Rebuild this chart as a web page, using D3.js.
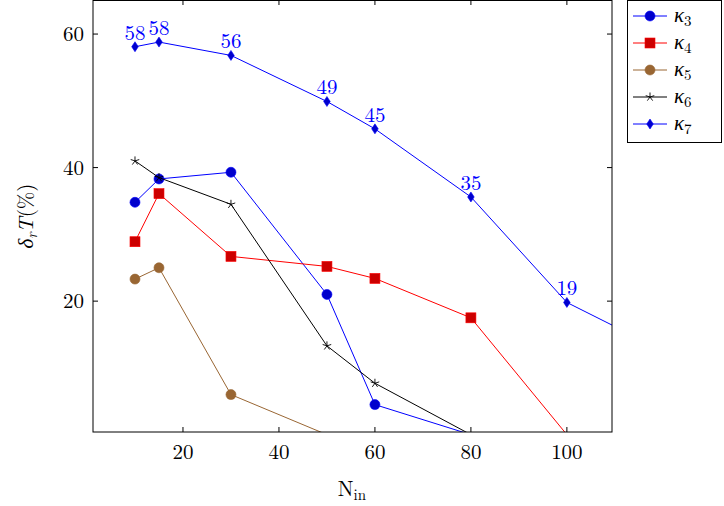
<!DOCTYPE html>
<html><head><meta charset="utf-8">
<script src="https://cdn.jsdelivr.net/npm/d3@7"></script>
<style>body{margin:0;background:#fff}svg{font-family:"Latin Modern Roman","Liberation Serif","DejaVu Serif",serif}</style>
</head><body><svg id="c" width="724" height="506"></svg>
<script>
const xs=[10,15,30,50,60,80,100,120];
const k3=[34.8,38.3,39.3,21.0,4.5,0];
const k4=[28.9,36.1,26.7,25.2,23.4,17.5,0];
const k5=[23.3,25.0,6.0,0];
const k6=[41.0,38.5,34.5,13.3,7.7,0];
const k7=[58.1,58.8,56.8,49.9,45.8,35.6,19.8,12.6];
const k7labels=["58","58","56","49","45","35","19"];
const xTicks=[20,40,60,80,100], yTicks=[20,40,60];
const series=[
 {name:"3",v:k3,line:"#0000ff",fill:"#0000cc",mark:"circle"},
 {name:"4",v:k4,line:"#ff0000",fill:"#cc0000",mark:"square"},
 {name:"5",v:k5,line:"#996633",fill:"#996633",mark:"circle"},
 {name:"6",v:k6,line:"#000000",fill:"#000000",mark:"star"},
 {name:"7",v:k7,line:"#0000ff",fill:"#0000cc",mark:"diamond"}];
const L=93,R=612,T=0,B=432;
const x=d3.scaleLinear().domain([1.25,109.4]).range([L,R]);
const y=d3.scaleLinear().domain([0.4,65.1]).range([B,T]);
const svg=d3.select("#c");
svg.append("clipPath").attr("id","cp").append("rect").attr("x",L).attr("y",T).attr("width",R-L).attr("height",B-T);
const g=svg.append("g").attr("clip-path","url(#cp)");
function mark(sel,s,px,py){
 if(s.mark==="circle") sel.append("circle").attr("cx",px).attr("cy",py).attr("r",5).attr("fill",s.fill).attr("stroke",s.line).attr("stroke-width",0.6);
 else if(s.mark==="square") sel.append("rect").attr("x",px-5).attr("y",py-5).attr("width",10).attr("height",10).attr("fill",s.fill).attr("stroke",s.line).attr("stroke-width",0.6);
 else if(s.mark==="diamond") sel.append("path").attr("d",`M${px},${py-5}L${px+3.3},${py}L${px},${py+5}L${px-3.3},${py}Z`).attr("fill",s.fill).attr("stroke",s.line).attr("stroke-width",0.6);
 else { const gg=sel.append("g").attr("stroke",s.line).attr("stroke-width",0.9);
   for(let i=0;i<5;i++){const a=-Math.PI/2+i*2*Math.PI/5;gg.append("line").attr("x1",px).attr("y1",py).attr("x2",px+4.5*Math.cos(a)).attr("y2",py+4.5*Math.sin(a));}}
}
series.forEach(s=>{
 const pts=s.v.map((v,i)=>[xs[i],v]);
 g.append("path").attr("d",d3.line().x(d=>x(d[0])).y(d=>y(d[1]))(pts)).attr("fill","none").attr("stroke",s.line).attr("stroke-width",1);
 pts.filter(p=>p[1]>=y.domain()[0]&&p[0]<=x.domain()[1]).forEach(p=>mark(g,s,x(p[0]),y(p[1])));
});
k7labels.forEach((t,i)=>svg.append("text").attr("x",x(xs[i])).attr("y",y(k7[i])-7).attr("text-anchor","middle").attr("font-size",21).attr("fill","#0000ff").text(t));
svg.append("rect").attr("x",L).attr("y",T+0.5).attr("width",R-L).attr("height",B-T-0.5).attr("fill","none").attr("stroke","#000").attr("stroke-width",1);
xTicks.forEach(t=>{svg.append("line").attr("x1",x(t)).attr("x2",x(t)).attr("y1",B).attr("y2",B-5).attr("stroke","#000");
 svg.append("line").attr("x1",x(t)).attr("x2",x(t)).attr("y1",T).attr("y2",T+5).attr("stroke","#000");
 svg.append("text").attr("x",x(t)).attr("y",B+27).attr("text-anchor","middle").attr("font-size",21).text(t);});
yTicks.forEach(t=>{svg.append("line").attr("x1",L).attr("x2",L+5).attr("y1",y(t)).attr("y2",y(t)).attr("stroke","#000");
 svg.append("line").attr("x1",R).attr("x2",R-5).attr("y1",y(t)).attr("y2",y(t)).attr("stroke","#000");
 svg.append("text").attr("x",L-9).attr("y",y(t)+7).attr("text-anchor","end").attr("font-size",21).text(t);});
const xl=svg.append("text").attr("x",352).attr("y",496).attr("font-size",21).attr("text-anchor","middle");
xl.append("tspan").text("N");xl.append("tspan").attr("font-size",15).attr("dy",4).text("in");
const yl=svg.append("text").attr("transform","translate(33,216) rotate(-90)").attr("text-anchor","middle").attr("font-size",21);
yl.append("tspan").attr("font-style","italic").text("δ");yl.append("tspan").attr("font-style","italic").attr("font-size",15).attr("dy",4).text("r");
yl.append("tspan").attr("font-style","italic").attr("dy",-4).text("T");yl.append("tspan").text("(%)");
const lg=svg.append("g");
lg.append("rect").attr("x",627.5).attr("y",0.5).attr("width",94).attr("height",142).attr("fill","#fff").attr("stroke","#000");
series.forEach((s,i)=>{const yy=16+i*27;
 lg.append("line").attr("x1",633).attr("x2",667).attr("y1",yy).attr("y2",yy).attr("stroke",s.line);
 mark(lg,s,650,yy);
 const t=lg.append("text").attr("x",674).attr("y",yy+6).attr("font-size",21);
 t.append("tspan").attr("font-style","italic").text("κ");t.append("tspan").attr("font-size",15).attr("dy",4).text(s.name);});
</script></body></html>
